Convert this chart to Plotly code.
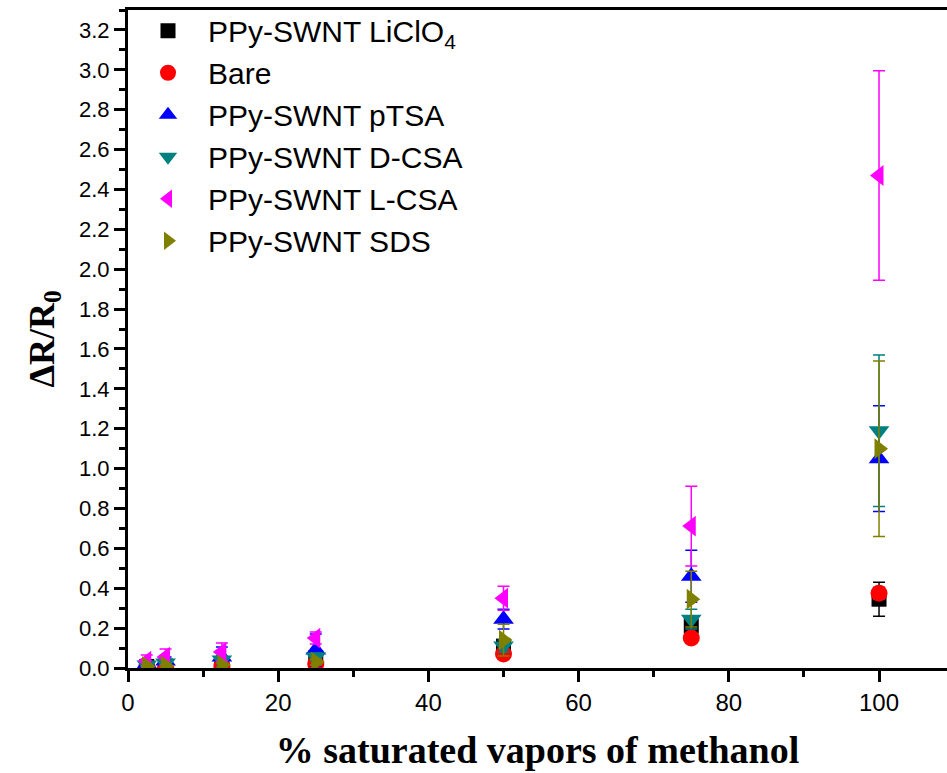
import plotly.graph_objects as go

# Methanol vapour concentration (% of saturated vapour)
conc = [2.5, 5, 12.5, 25, 50, 75, 100]

# Mean response (ΔR/R0) and standard deviation for each sensor film
licl_y = [0.008, 0.01, 0.02, 0.05, 0.11, 0.21, 0.345]
licl_e = [0.005, 0.005, 0.01, 0.02, 0.03, 0.04, 0.085]

bare_y = [0.005, 0.005, 0.01, 0.02, 0.07, 0.15, 0.375]
bare_e = [0.003, 0.003, 0.005, 0.01, 0.015, 0.02, 0.03]

ptsa_y = [0.02, 0.035, 0.055, 0.09, 0.245, 0.46, 1.05]
ptsa_e = [0.01, 0.02, 0.05, 0.08, 0.05, 0.13, 0.265]

dcsa_y = [0.015, 0.025, 0.04, 0.055, 0.11, 0.245, 1.19]
dcsa_e = [0.01, 0.01, 0.02, 0.02, 0.03, 0.05, 0.38]

lcsa_y = [0.035, 0.055, 0.08, 0.15, 0.35, 0.712, 2.47]
lcsa_e = [0.03, 0.04, 0.045, 0.03, 0.06, 0.2, 0.525]

sds_y = [0.008, 0.01, 0.015, 0.03, 0.14, 0.345, 1.10]
sds_e = [0.005, 0.005, 0.01, 0.015, 0.08, 0.14, 0.44]

series = [
    ("PPy-SWNT LiClO<sub>4</sub>", licl_y, licl_e, "#000000", "square", 15),
    ("Bare", bare_y, bare_e, "#FF0000", "circle", 17),
    ("PPy-SWNT pTSA", ptsa_y, ptsa_e, "#0000FF", "triangle-up", 18),
    ("PPy-SWNT D-CSA", dcsa_y, dcsa_e, "#008080", "triangle-down", 18),
    ("PPy-SWNT L-CSA", lcsa_y, lcsa_e, "#FF00FF", "triangle-left", 18),
    ("PPy-SWNT SDS", sds_y, sds_e, "#808000", "triangle-right", 18),
]

fig = go.Figure()
for name, y, e, color, symbol, size in series:
    fig.add_trace(go.Scatter(
        x=conc, y=y, name=name, mode="markers",
        marker=dict(symbol=symbol, size=size, color=color, line=dict(width=0)),
        error_y=dict(type="data", array=e, visible=True, color=color,
                     thickness=1.5, width=6),
    ))

sans = "Liberation Sans, Arial, sans-serif"
serif = "Liberation Serif, Times New Roman, serif"

fig.update_layout(
    width=947, height=773,
    margin=dict(l=128, r=0, t=10, b=105),
    paper_bgcolor="white", plot_bgcolor="white",
    showlegend=True,
    legend=dict(
        x=0.0, y=1.008, xanchor="left", yanchor="top",
        font=dict(family=sans, size=30, color="black"),
        bgcolor="rgba(0,0,0,0)", borderwidth=0, itemwidth=70,
        tracegroupgap=0,
    ),
    xaxis=dict(
        range=[0, 109.05], showgrid=False, zeroline=False,
        showline=True, linecolor="black", linewidth=3, mirror=True,
        ticks="outside", ticklen=11, tickwidth=3, tickcolor="black",
        tickvals=[0, 20, 40, 60, 80, 100],
        minor=dict(ticks="outside", ticklen=6, tickwidth=3, tickcolor="black", dtick=10),
        tickfont=dict(family=sans, size=24, color="black"),
        title=dict(text="<b>% saturated vapors of methanol</b>",
                   font=dict(family=serif, size=38, color="black"), standoff=22),
    ),
    yaxis=dict(
        range=[0, 3.3], showgrid=False, zeroline=False,
        showline=True, linecolor="black", linewidth=3, mirror=False,
        ticks="outside", ticklen=11, tickwidth=3, tickcolor="black",
        dtick=0.2, tickformat=".1f",
        minor=dict(ticks="outside", ticklen=6, tickwidth=3, tickcolor="black", dtick=0.1),
        tickfont=dict(family=sans, size=22, color="black"),
        title=dict(text="<b>ΔR/R<sub>0</sub></b>",
                   font=dict(family=serif, size=36, color="black"), standoff=14),
    ),
)

fig.write_html("out.html")
